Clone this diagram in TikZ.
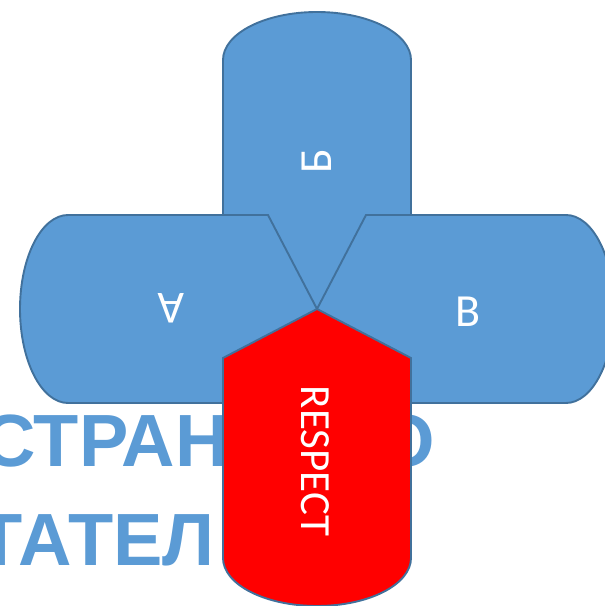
\documentclass[tikz,border=0pt]{standalone}
\usepackage{fontspec}
\setmainfont{Carlito}
\newfontfamily\bgfont{Liberation Sans}
\definecolor{shapeblue}{HTML}{5B9BD5}
\definecolor{edgeblue}{HTML}{41719C}
\definecolor{red1}{HTML}{FF0000}
\tikzset{
  petal/.style={draw=edgeblue, line width=1.9pt, line join=miter},
  bluepetal/.style={petal, fill=shapeblue},
  redpetal/.style={petal, fill=red1},
  lettertext/.style={text=white, inner sep=0pt, font=\fontsize{46}{50}\selectfont},
  respecttext/.style={text=white, inner sep=0pt, font=\fontsize{43}{47}\selectfont},
  bgtext/.style={text=shapeblue, inner sep=0pt, anchor=base west, font=\bgfont\bfseries\fontsize{74}{80}\selectfont}
}
\newcommand{\petalpath}{(0,0) -- (49,94) -- (249,94) arc[start angle=90, end angle=-90, x radius=48, y radius=94] -- (49,-94) -- cycle}
\begin{document}
\begin{tikzpicture}[x=1pt,y=1pt]
\useasboundingbox (0,0) rectangle (605,606);
% background words
\node[bgtext] (w1) at (-18,139) {СТРАНСТВО};
\node[bgtext] (w2) at (-22.5,41) {ТАТЕЛ};
% petals
\coordinate (c) at (317,297);
\begin{scope}[shift={(c)}, rotate=90]
  \draw[bluepetal] \petalpath;
\end{scope}
\begin{scope}[shift={(c)}, rotate=180]
  \draw[bluepetal] \petalpath;
\end{scope}
\begin{scope}[shift={(c)}, rotate=0]
  \draw[bluepetal] \petalpath;
\end{scope}
\begin{scope}[shift={(c)}, rotate=-90]
  \draw[redpetal] \petalpath;
\end{scope}
% labels
\node[lettertext, rotate=90] (b) at (317,445) {Б};
\node[lettertext, rotate=180] (a) at (171,298) {А};
\node[lettertext] (v) at (468,294) {В};
\node[respecttext, rotate=-90] (r) at (315,145) {RESPECT};
\end{tikzpicture}
\end{document}
